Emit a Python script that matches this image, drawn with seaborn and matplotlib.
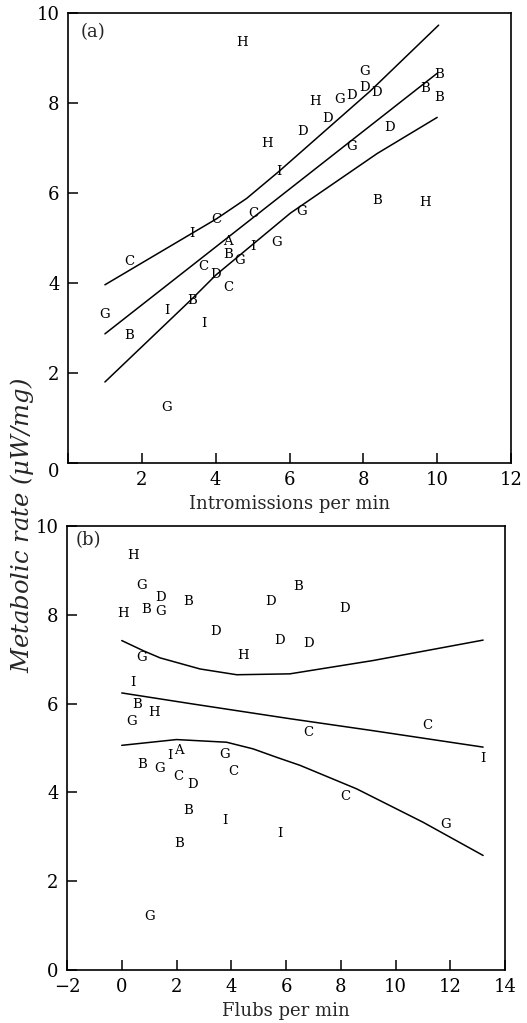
import numpy as np
import pandas as pd
import matplotlib
matplotlib.use('Agg')
from matplotlib import pyplot as plt
import seaborn as sns

# panel (a): metabolic rate vs intromissions per min, letter = group
a_lab = ['H', 'H', 'I', 'C', 'C', 'G', 'D', 'D', 'D', 'G', 'H', 'D', 'D',
         'B', 'B', 'B', 'D', 'G', 'B', 'H', 'G', 'C', 'I', 'A', 'B', 'G',
         'I', 'G', 'C', 'D', 'C', 'G', 'B', 'I', 'B', 'I', 'G']
a_x = [4.71, 5.38, 5.70, 4.03, 5.02, 8.02, 8.02, 8.35, 7.69, 7.35, 6.69, 7.03, 6.36,
       10.04, 9.67, 10.04, 8.71, 7.69, 8.38, 9.67, 6.33, 1.66, 3.35, 4.34, 4.34, 4.66,
       5.02, 5.66, 3.67, 4.01, 4.34, 0.98, 1.66, 2.67, 3.35, 3.69, 2.67]
a_y = [9.34, 7.10, 6.48, 5.41, 5.55, 8.71, 8.34, 8.23, 8.17, 8.08, 8.04, 7.65, 7.37,
       8.63, 8.32, 8.13, 7.45, 7.04, 5.83, 5.79, 5.59, 4.48, 5.11, 4.92, 4.63, 4.51,
       4.81, 4.89, 4.37, 4.18, 3.91, 3.29, 2.84, 3.40, 3.62, 3.09, 1.23]

# regression line and confidence band
a_mid_x = [1.0, 10.0]
a_mid_y = [2.87, 8.66]
a_up_x = [1.0, 3.35, 4.03, 4.84, 5.70, 8.18, 10.04]
a_up_y = [3.96, 5.10, 5.43, 5.88, 6.47, 8.26, 9.73]
a_lo_x = [1.0, 3.35, 4.01, 6.02, 8.38, 10.0]
a_lo_y = [1.80, 3.64, 4.18, 5.55, 6.88, 7.68]

# panel (b): metabolic rate vs flubs per min
b_lab = ['H', 'G', 'D', 'B', 'G', 'H', 'B', 'D', 'B', 'D', 'D', 'D', 'D', 'H', 'G',
         'I', 'B', 'H', 'G', 'I', 'A', 'B', 'G', 'C', 'D', 'G', 'C', 'B', 'I', 'B', 'I',
         'C', 'C', 'I', 'C', 'G', 'G']
b_x = [0.40, 0.73, 1.40, 0.89, 1.40, 0.06, 2.43, 5.44, 6.45, 8.15, 3.44, 5.78, 6.81,
       4.44, 0.73, 0.40, 0.57, 1.18, 0.36, 1.76, 2.10, 0.73, 1.37, 2.07, 2.59, 3.77,
       4.07, 2.43, 3.77, 2.10, 5.78, 6.81, 11.17, 13.20, 8.15, 11.84, 1.03]
b_y = [9.33, 8.67, 8.39, 8.13, 8.07, 8.03, 8.31, 8.31, 8.63, 8.14, 7.62, 7.43, 7.36,
       7.08, 7.03, 6.48, 5.98, 5.81, 5.60, 4.83, 4.94, 4.63, 4.53, 4.36, 4.18, 4.85,
       4.46, 3.60, 3.37, 2.85, 3.07, 5.36, 5.51, 4.76, 3.90, 3.28, 1.20]

b_mid_x = [0.0, 2.61, 6.14, 9.18, 13.2]
b_mid_y = [6.24, 5.99, 5.66, 5.39, 5.02]
b_up_x = [0.0, 0.79, 1.40, 2.86, 4.20, 6.14, 9.18, 13.2]
b_up_y = [7.42, 7.19, 7.03, 6.78, 6.65, 6.67, 6.97, 7.43]
b_lo_x = [0.0, 2.0, 3.83, 4.80, 5.66, 6.51, 8.58, 11.0, 13.2]
b_lo_y = [5.06, 5.19, 5.13, 4.98, 4.79, 4.61, 4.08, 3.33, 2.58]

sns.set_theme(style='ticks')
plt.rcParams['font.family'] = ['DejaVu Serif']
plt.rcParams['mathtext.fontset'] = 'dejavuserif'

fig = plt.figure(figsize=(5.27, 10.23), dpi=100)
ax1 = fig.add_axes([68/527, 1 - 463/1023, 443/527, 450/1023])
ax2 = fig.add_axes([67/527, 1 - 970/1023, 438/527, 444/1023])


def draw_panel(ax, labs, xs, ys, curves):
    for cx, cy in curves:
        sns.lineplot(x=cx, y=cy, ax=ax, color='black', lw=1.1, sort=False, estimator=None)
    for l, x, y in zip(labs, xs, ys):
        ax.text(x, y, l, ha='center', va='center', fontsize=9.5, color='black')
    for s in ax.spines.values():
        s.set_linewidth(1.2)
        s.set_color('black')
    ax.tick_params(direction='in', length=7, width=1.1, top=False, right=False,
                   labelsize=13, colors='black', pad=6)


draw_panel(ax1, a_lab, a_x, a_y,
           [(a_mid_x, a_mid_y), (a_up_x, a_up_y), (a_lo_x, a_lo_y)])
ax1.set_xlim(0, 12)
ax1.set_ylim(0, 10)
ax1.set_xticks(range(0, 13, 2))
ax1.set_xticklabels([''] + [str(v) for v in range(2, 13, 2)])
ax1.set_yticks(range(0, 11, 2))
ax1.set_xlabel('Intromissions per min', fontsize=13, labelpad=4)
ax1.set_ylabel('')
lbl0 = ax1.get_yticklabels()[0]
lbl0.set_verticalalignment('top')
ax1.text(0.056, 0.958, '(a)', transform=ax1.transAxes, fontsize=13,
         ha='center', va='center')

draw_panel(ax2, b_lab, b_x, b_y,
           [(b_mid_x, b_mid_y), (b_up_x, b_up_y), (b_lo_x, b_lo_y)])
ax2.set_xlim(-2, 14)
ax2.set_ylim(0, 10)
ax2.set_xticks(range(-2, 15, 2))
ax2.set_xticklabels(['\u22122'] + [str(v) for v in range(0, 15, 2)])
ax2.set_yticks(range(0, 11, 2))
ax2.set_xlabel('Flubs per min', fontsize=13, labelpad=4)
ax2.set_ylabel('')
ax2.text(0.048, 0.968, '(b)', transform=ax2.transAxes, fontsize=13,
         ha='center', va='center')

fig.text(0.042, 0.487, 'Metabolic rate ($\\mu$W/mg)', rotation=90, style='italic',
         fontsize=17.5, ha='center', va='center')

fig.savefig('out.png', dpi=100, facecolor='white')
